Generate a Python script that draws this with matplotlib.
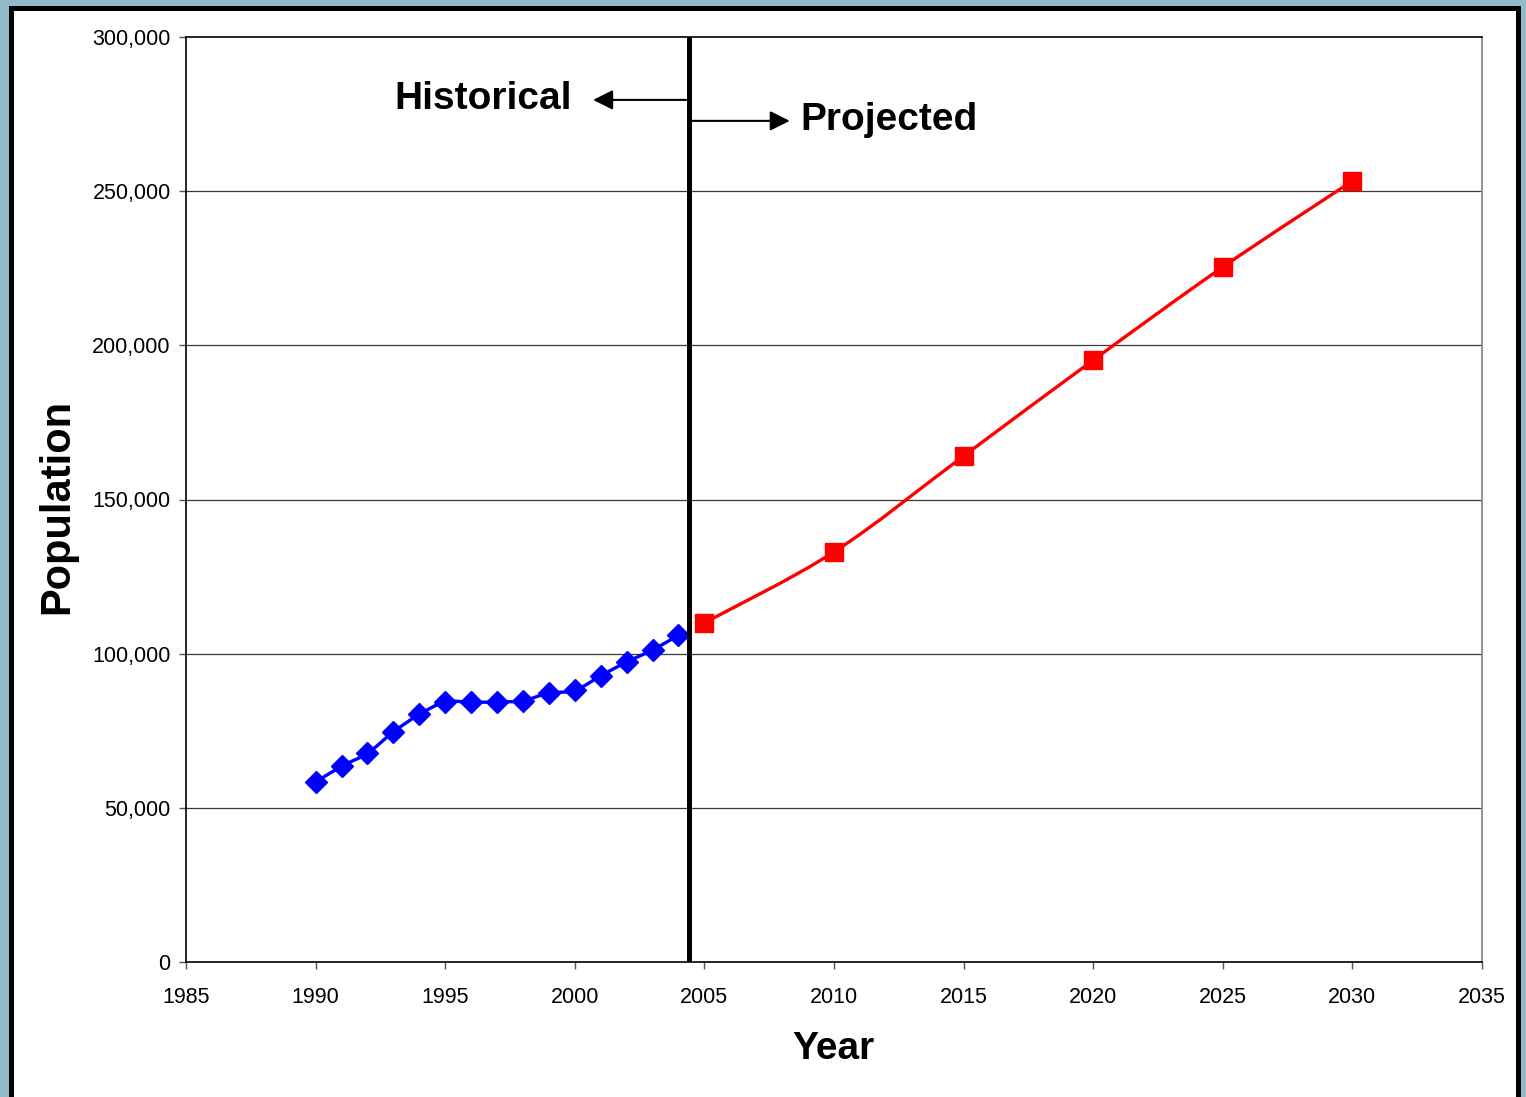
import matplotlib
matplotlib.use('Agg')

import numpy as np
import matplotlib.pyplot as plt
from matplotlib.path import Path
from matplotlib.patches import PathPatch, Rectangle
from matplotlib.ticker import FuncFormatter

plt.rcParams['font.family'] = ['Liberation Sans', 'DejaVu Sans']

# Data
hist_years = [1990, 1991, 1992, 1993, 1994, 1995, 1996, 1997, 1998, 1999,
              2000, 2001, 2002, 2003, 2004]
hist_pop = [58300, 63500, 67700, 74600, 80300, 84300, 84300, 84300, 84800, 87200,
            88100, 92800, 97300, 101200, 106000]

proj_years = [2005, 2010, 2015, 2020, 2025, 2030]
proj_pop = [110000, 133000, 164100, 195200, 225400, 253300]

x_ticks = [1985, 1990, 1995, 2000, 2005, 2010, 2015, 2020, 2025, 2030, 2035]
y_ticks = [0, 50000, 100000, 150000, 200000, 250000, 300000]
divider_year = 2004.4


def smooth_path(xs, ys, tension=1.0 / 6):
	# Excel-style smoothed line: cubic bezier segments through every point
	xs = np.asarray(xs, float)
	ys = np.asarray(ys, float)
	n = len(xs)
	verts = [(xs[0], ys[0])]
	codes = [Path.MOVETO]
	for i in range(n - 1):
		p0 = np.array([xs[max(i - 1, 0)], ys[max(i - 1, 0)]])
		p1 = np.array([xs[i], ys[i]])
		p2 = np.array([xs[i + 1], ys[i + 1]])
		p3 = np.array([xs[min(i + 2, n - 1)], ys[min(i + 2, n - 1)]])
		c1 = p1 + (p2 - p0) * tension
		c2 = p2 - (p3 - p1) * tension
		verts += [tuple(c1), tuple(c2), tuple(p2)]
		codes += [Path.CURVE4] * 3
	return Path(verts, codes)


fig = plt.figure(figsize=(15.26, 10.97), dpi=100)
fig.patch.set_facecolor('#93BACB')

# white panel with heavy black frame
fig.patches.append(Rectangle((10.5 / 1526, -0.05), (1518 - 10.5) / 1526, 1.05 - 7.5 / 1097,
                             transform=fig.transFigure, facecolor='white',
                             edgecolor='black', linewidth=3.6, zorder=-10))

ax = fig.add_axes([186 / 1526, 1 - 962 / 1097, (1482 - 186) / 1526, (962 - 37) / 1097])
ax.set_zorder(1)
ax.set_xlim(1985, 2035)
ax.set_ylim(0, 300000)
ax.set_xticks(x_ticks)
ax.set_yticks(y_ticks)
ax.yaxis.set_major_formatter(FuncFormatter(lambda v, p: '{:,.0f}'.format(v)))
ax.tick_params(direction='out', length=5, width=1, color='#555555', labelsize=15.5, pad=6)
ax.tick_params(axis='x', pad=13)

for y in y_ticks[1:-1]:
	ax.axhline(y, color='#3a3a3a', linewidth=0.9, zorder=1)

for s in ['top', 'bottom', 'left']:
	ax.spines[s].set_color('black')
	ax.spines[s].set_linewidth(1.2)
ax.spines['right'].set_color('#808080')
ax.spines['right'].set_linewidth(1.2)

# historical (blue) and projected (red)
ax.add_patch(PathPatch(smooth_path(hist_years, hist_pop), facecolor='none',
                       edgecolor='#0000FF', linewidth=2.4, zorder=3))
ax.plot(hist_years, hist_pop, linestyle='none', marker='D', markersize=11,
        color='#0000FF', zorder=4)
ax.add_patch(PathPatch(smooth_path(proj_years, proj_pop), facecolor='none',
                       edgecolor='#FF0000', linewidth=2.4, zorder=3))
ax.plot(proj_years, proj_pop, linestyle='none', marker='s', markersize=13,
        color='#FF0000', zorder=4)

ax.axvline(divider_year, color='black', linewidth=3.6, zorder=5)

# annotations
ax.annotate('', xy=(2000.6, 279600), xytext=(divider_year, 279600),
            arrowprops=dict(arrowstyle='-|>', color='black', lw=1.5, mutation_scale=30))
ax.annotate('', xy=(2008.4, 272800), xytext=(divider_year, 272800),
            arrowprops=dict(arrowstyle='-|>', color='black', lw=1.5, mutation_scale=30))
ax.text(1999.9, 279800, 'Historical', ha='right', va='center', fontsize=28, fontweight='bold')
ax.text(2008.7, 273200, 'Projected', ha='left', va='center', fontsize=28, fontweight='bold')

fig.text(57 / 1526, 1 - 506 / 1097, 'Population', rotation=90, ha='center', va='center',
         fontsize=30, fontweight='bold')
fig.text(833 / 1526, 1 - 1049 / 1097, 'Year', ha='center', va='center',
         fontsize=28, fontweight='bold')

fig.savefig('out.png', dpi=100, facecolor=fig.get_facecolor())
